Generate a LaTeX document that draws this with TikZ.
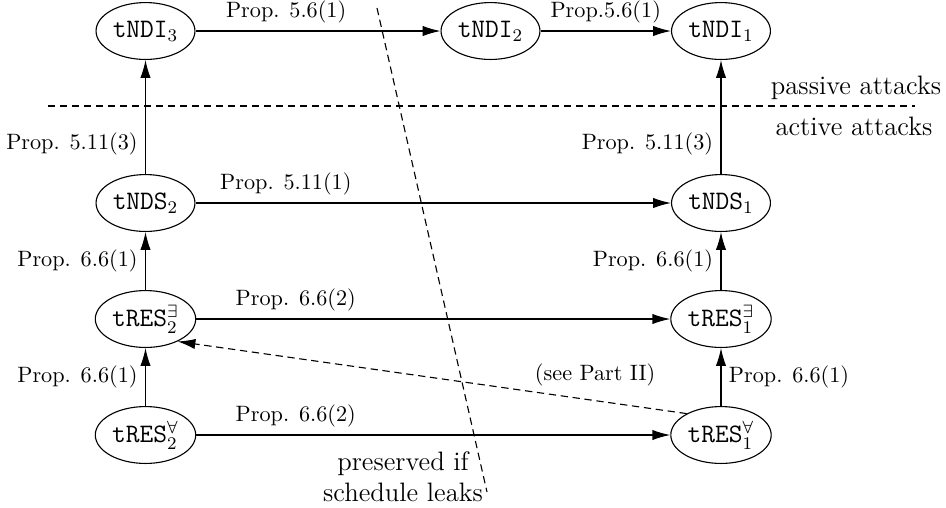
\documentclass[tikz,border=0pt]{standalone}
\usepackage{amsmath}
\usepackage{amssymb}
\usepackage{tikz}
\usetikzlibrary{arrows.meta,shapes.geometric}

\begin{document}
\begin{tikzpicture}[x=0.45pt,y=-0.45pt,line width=0.5pt,
every edge/.style={draw,-{Latex[length=8pt,width=4.6pt]}},
prop/.style={ellipse,draw,font=\large,minimum width=44pt,minimum height=25.6pt,inner sep=1pt},
cut/.style={dash pattern=on 3.3pt off 2.1pt}]
\useasboundingbox (0,0) rectangle (946,507);
\node[prop] (ndi3) at (145.5,31) {\texttt{tNDI}$_3$};
\node[prop] (ndi2) at (490.5,31) {\texttt{tNDI}$_2$};
\node[prop] (ndi1) at (721,31) {\texttt{tNDI}$_1$};
\node[prop] (nds2) at (145.5,203) {\texttt{tNDS}$_2$};
\node[prop] (nds1) at (721,203) {\texttt{tNDS}$_1$};
\node[prop] (rese2) at (145.5,319) {\texttt{tRES}$^{\exists}_2$};
\node[prop] (rese1) at (721,319) {\texttt{tRES}$^{\exists}_1$};
\node[prop] (resa2) at (145.5,435) {\texttt{tRES}$^{\forall}_2$};
\node[prop] (resa1) at (721,435) {\texttt{tRES}$^{\forall}_1$};
\coordinate (splitl) at (48,106);
\coordinate (splitr) at (915,106);
\coordinate (cuttop) at (377,8);
\coordinate (cutbot) at (487,492);
\node[font=\large] (passive) at (856,88) {passive attacks};
\node[font=\large] (active) at (854,126) {active attacks};
\node[font=\large,align=center] (leaks) at (403,477) {preserved if\\schedule leaks};
\draw[cut] (splitl) -- (splitr);
\draw[cut] (cuttop) -- (cutbot);
\path
(ndi3) edge node[above,pos=0.37] {Prop. 5.6(1)} (ndi2)
(ndi2) edge node[above] {Prop.5.6(1)} (ndi1)
(nds2) edge node[left,pos=0.26] {Prop. 5.11(3)} (ndi3)
(nds1) edge node[left,pos=0.26] {Prop. 5.11(3)} (ndi1)
(nds2) edge node[above,pos=0.19] {Prop. 5.11(1)} (nds1)
(rese2) edge node[left] {Prop. 6.6(1)} (nds2)
(rese1) edge node[left] {Prop. 6.6(1)} (nds1)
(rese2) edge node[above,pos=0.21] {Prop. 6.6(2)} (rese1)
(resa2) edge node[left] {Prop. 6.6(1)} (rese2)
(resa1) edge node[right] {Prop. 6.6(1)} (rese1)
(resa2) edge node[above,pos=0.21] {Prop. 6.6(2)} (resa1)
(resa1.148) edge[cut] node[above=3pt,pos=0.18] {(see Part II)} (rese2.-35);
\end{tikzpicture}
\end{document}
